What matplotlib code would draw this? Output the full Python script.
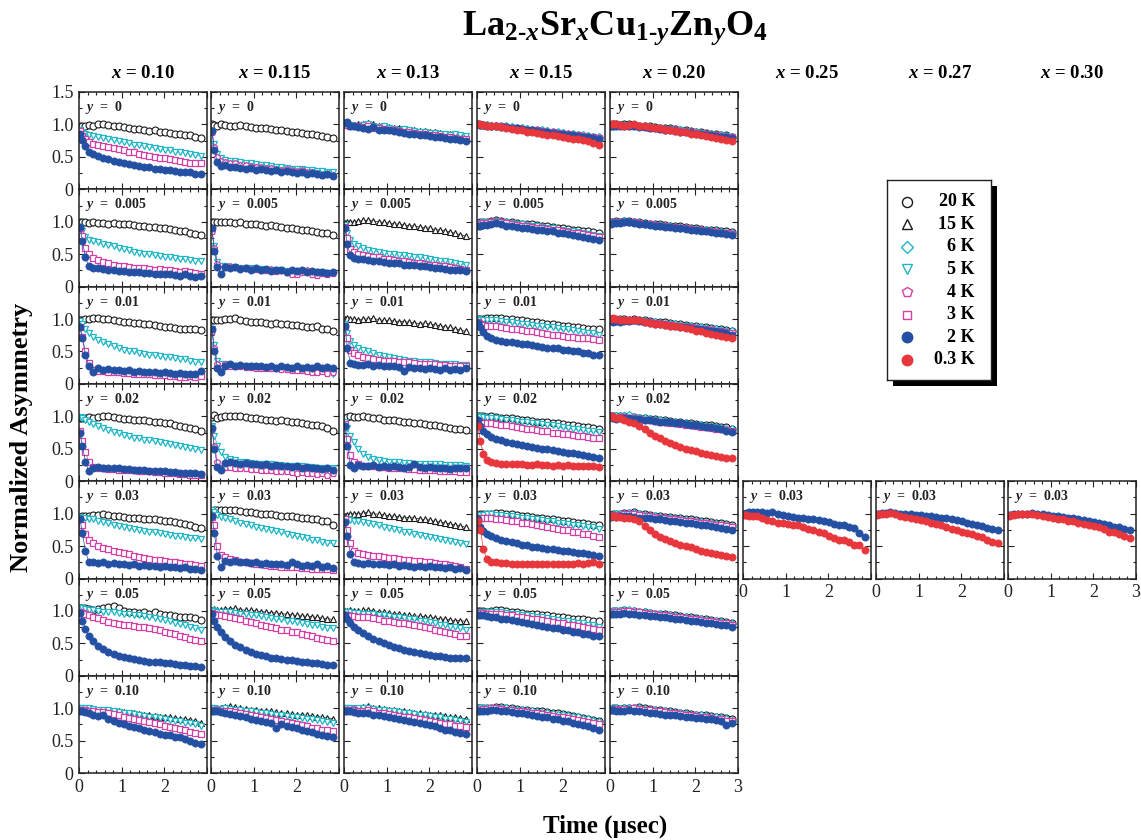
import matplotlib
matplotlib.use('Agg')
import matplotlib.pyplot as plt
from matplotlib.patches import Rectangle
from matplotlib.ticker import MultipleLocator, FixedLocator, FixedFormatter

plt.rcParams['font.family'] = ['Liberation Serif', 'DejaVu Serif']
plt.rcParams['mathtext.fontset'] = 'custom'
plt.rcParams['mathtext.rm'] = 'Liberation Serif:bold'
plt.rcParams['mathtext.it'] = 'Liberation Serif:italic:bold'
plt.rcParams['mathtext.bf'] = 'Liberation Serif:bold'

# ---------------- data ----------------
time_us = [0.02, 0.08, 0.15, 0.23, 0.33, 0.45, 0.57, 0.69, 0.81, 0.93, 1.05, 1.17, 1.29,
           1.41, 1.53, 1.65, 1.77, 1.89, 2.01, 2.13, 2.25, 2.37, 2.49, 2.61, 2.73, 2.85]

x_labels = ['0.10', '0.115', '0.13', '0.15', '0.20', '0.25', '0.27', '0.30']
y_labels = ['0', '0.005', '0.01', '0.02', '0.03', '0.05', '0.10']
legend_keys = ['K20', 'K15', 'K6', 'K5', 'K4', 'K3', 'K2', 'K03']
legend_texts = ['20 K', '15 K', '6 K', '5 K', '4 K', '3 K', '2 K', '0.3 K']

# x = 0.10
x010_y0_K20 = [0.97,0.97,0.98,0.99,0.97, 1.00,1.01,0.99,0.98,0.98, 0.96,0.95,0.93,0.93,0.92, 0.90,0.91,0.88,0.89,0.87, 0.86,0.86,0.84,0.84,0.81, 0.79]
x010_y0_K5 = [0.92,0.88,0.86,0.84,0.82, 0.80,0.79,0.78,0.76,0.74, 0.73,0.71,0.69,0.68,0.67, 0.65,0.64,0.62,0.61,0.60, 0.58,0.57,0.56,0.55,0.53, 0.52]
x010_y0_K3 = [0.90,0.82,0.77,0.73,0.70, 0.68,0.66,0.65,0.63,0.62, 0.60,0.58,0.57,0.55,0.53, 0.51,0.50,0.49,0.48,0.46, 0.45,0.44,0.42,0.41,0.41, 0.40]
x010_y0_K2 = [0.85,0.76,0.66,0.58,0.55, 0.52,0.48,0.46,0.44,0.42, 0.40,0.39,0.37,0.36,0.35, 0.34,0.32,0.31,0.30,0.29, 0.28,0.27,0.26,0.26,0.24, 0.23]

x010_y005_K20 = [0.99,1.00,0.99,0.98,0.99, 0.98,0.98,0.97,0.98,0.97, 0.96,0.96,0.95,0.94,0.93, 0.92,0.92,0.91,0.90,0.89, 0.87,0.86,0.85,0.83,0.81, 0.79]
x010_y005_K5 = [0.92,0.85,0.77,0.72,0.70, 0.68,0.66,0.64,0.62,0.60, 0.58,0.56,0.54,0.52,0.51, 0.50,0.48,0.47,0.46,0.45, 0.44,0.43,0.42,0.41,0.40, 0.39]
x010_y005_K3 = [0.90,0.78,0.60,0.50,0.44, 0.41,0.38,0.36,0.33,0.32, 0.31,0.30,0.29,0.28,0.28, 0.27,0.26,0.27,0.25,0.26, 0.24,0.23,0.24,0.22,0.21, 0.20]
x010_y005_K2 = [0.92,0.70,0.45,0.31,0.29, 0.28,0.27,0.26,0.25,0.24, 0.24,0.23,0.22,0.23,0.21, 0.21,0.20,0.20,0.19,0.20, 0.18,0.17,0.19,0.16,0.15, 0.16]

x010_y01_K20 = [0.98,0.99,1.00,1.00,1.01, 1.01,1.00,1.00,0.98,0.97, 0.95,0.95,0.94,0.94,0.93, 0.92,0.91,0.90,0.88,0.87, 0.86,0.85,0.85,0.84,0.84, 0.83]
x010_y01_K5 = [0.97,0.92,0.85,0.78,0.72, 0.68,0.64,0.61,0.58,0.56, 0.53,0.51,0.50,0.48,0.46, 0.45,0.44,0.43,0.42,0.41, 0.40,0.39,0.38,0.36,0.34, 0.33]
x010_y01_K3 = [0.88,0.72,0.50,0.32,0.22, 0.20,0.20,0.19,0.18,0.18, 0.17,0.17,0.16,0.16,0.15, 0.15,0.14,0.14,0.13,0.12, 0.12,0.11,0.11,0.12,0.10, 0.12]
x010_y01_K2 = [0.88,0.70,0.45,0.28,0.18, 0.24,0.22,0.23,0.21,0.22, 0.20,0.21,0.19,0.20,0.19, 0.18,0.19,0.17,0.18,0.17, 0.16,0.17,0.15,0.16,0.15, 0.20]

x010_y02_K20 = [0.98,0.97,0.98,0.99,0.98, 0.99,1.00,1.00,0.99,0.98, 0.96,0.96,0.95,0.95,0.94, 0.93,0.92,0.91,0.90,0.89, 0.87,0.85,0.84,0.82,0.81, 0.78]
x010_y02_K5 = [0.99,0.97,0.95,0.92,0.88, 0.85,0.82,0.79,0.76,0.74, 0.71,0.69,0.67,0.66,0.64, 0.63,0.62,0.60,0.59,0.57, 0.56,0.54,0.53,0.51,0.49, 0.48]
x010_y02_K3 = [0.78,0.62,0.45,0.30,0.22, 0.20,0.20,0.19,0.19,0.18, 0.18,0.17,0.17,0.16,0.16, 0.15,0.14,0.14,0.13,0.12, 0.12,0.11,0.11,0.10,0.10, 0.10]
x010_y02_K2 = [0.75,0.55,0.30,0.15,0.20, 0.22,0.21,0.21,0.20,0.20, 0.19,0.19,0.18,0.18,0.17, 0.16,0.16,0.15,0.15,0.14, 0.14,0.13,0.13,0.12,0.12, 0.11]

x010_y03_K20 = [0.95,0.96,0.97,0.97,0.98, 0.98,0.99,0.98,0.97,0.96, 0.95,0.94,0.93,0.93,0.92, 0.91,0.91,0.90,0.89,0.88, 0.87,0.86,0.84,0.82,0.80, 0.78]
x010_y03_K5 = [0.95,0.94,0.93,0.92,0.91, 0.89,0.87,0.85,0.83,0.81, 0.79,0.78,0.76,0.75,0.73, 0.72,0.71,0.70,0.69,0.67, 0.66,0.65,0.64,0.63,0.62, 0.61]
x010_y03_K3 = [0.92,0.82,0.68,0.60,0.54, 0.50,0.47,0.45,0.43,0.41, 0.39,0.37,0.35,0.33,0.31, 0.30,0.29,0.28,0.27,0.26, 0.25,0.24,0.23,0.22,0.21, 0.20]
x010_y03_K2 = [0.92,0.70,0.42,0.26,0.25, 0.24,0.25,0.23,0.24,0.22, 0.23,0.21,0.22,0.20,0.21, 0.19,0.20,0.18,0.19,0.17, 0.18,0.16,0.17,0.15,0.14, 0.13]

x010_y05_K20 = [1.04,1.04,1.04,1.03,1.02, 1.03,1.04,1.06,1.07,1.04, 1.00,0.99,0.99,0.97,0.98, 0.96,0.99,0.95,0.94,0.93, 0.92,0.91,0.90,0.90,0.89, 0.86]
x010_y05_K5 = [1.04,1.04,1.03,1.02,1.01, 1.00,0.99,0.99,0.98,0.97, 0.96,0.95,0.94,0.93,0.92, 0.90,0.89,0.87,0.86,0.84, 0.82,0.80,0.78,0.76,0.73, 0.71]
x010_y05_K3 = [0.99,0.97,0.95,0.93,0.91, 0.89,0.86,0.83,0.81,0.80, 0.79,0.78,0.77,0.76,0.75, 0.73,0.72,0.70,0.68,0.66, 0.64,0.62,0.60,0.57,0.55, 0.53]
x010_y05_K2 = [0.97,0.85,0.72,0.62,0.53, 0.46,0.41,0.37,0.34,0.31, 0.29,0.27,0.26,0.24,0.23, 0.22,0.21,0.21,0.20,0.19, 0.18,0.17,0.16,0.15,0.15, 0.14]

x010_y10_K15 = [1.01,1.01,1.00,1.00,0.99, 0.98,0.97,0.97,0.96,0.95, 0.94,0.93,0.92,0.91,0.90, 0.89,0.88,0.87,0.87,0.86, 0.85,0.84,0.83,0.82,0.81, 0.78]
x010_y10_K5 = [1.01,1.01,1.00,1.00,0.99, 0.98,0.98,0.97,0.96,0.94, 0.93,0.92,0.91,0.90,0.88, 0.87,0.86,0.85,0.83,0.82, 0.81,0.80,0.78,0.77,0.75, 0.72]
x010_y10_K3 = [0.98,0.98,0.97,0.96,0.95, 0.94,0.94,0.93,0.91,0.89, 0.87,0.85,0.84,0.82,0.80, 0.79,0.77,0.75,0.73,0.71, 0.70,0.68,0.66,0.64,0.62, 0.61]
x010_y10_K2 = [0.96,0.95,0.94,0.92,0.90, 0.88,0.90,0.84,0.80,0.77, 0.75,0.73,0.71,0.69,0.67, 0.65,0.63,0.61,0.59,0.58, 0.56,0.55,0.52,0.49,0.47, 0.45]

# x = 0.115
x0115_y0_K20 = [1.00,0.99,0.98,1.00,0.99, 0.98,0.97,0.99,0.97,0.96, 0.95,0.95,0.94,0.93,0.92, 0.91,0.90,0.89,0.88,0.87, 0.86,0.85,0.83,0.82,0.81, 0.79]
x0115_y0_K5 = [0.90,0.70,0.55,0.48,0.45, 0.44,0.43,0.42,0.41,0.40, 0.39,0.38,0.37,0.36,0.35, 0.34,0.33,0.32,0.32,0.31, 0.30,0.29,0.28,0.28,0.27, 0.26]
x0115_y0_K4 = [0.88,0.65,0.50,0.43,0.42, 0.40,0.40,0.38,0.37,0.36, 0.35,0.34,0.33,0.33,0.31, 0.30,0.31,0.29,0.28,0.30, 0.27,0.26,0.25,0.22,0.24, 0.22]
x0115_y0_K2 = [0.90,0.60,0.42,0.36,0.38, 0.35,0.34,0.33,0.32,0.33, 0.30,0.31,0.29,0.28,0.30, 0.27,0.28,0.26,0.25,0.27, 0.24,0.25,0.23,0.22,0.23, 0.20]

x0115_y005_K20 = [1.00,0.99,0.99,0.99,1.00, 0.99,0.98,0.99,0.97,0.97, 0.96,0.95,0.94,0.95,0.93, 0.92,0.91,0.90,0.89,0.88, 0.87,0.86,0.84,0.83,0.82, 0.80]
x0115_y005_K5 = [0.88,0.62,0.38,0.32,0.31, 0.30,0.30,0.29,0.28,0.28, 0.27,0.27,0.26,0.26,0.25, 0.25,0.24,0.24,0.24,0.23, 0.23,0.22,0.22,0.22,0.21, 0.21]
x0115_y005_K4 = [0.85,0.60,0.35,0.27,0.30, 0.32,0.30,0.28,0.29,0.27, 0.27,0.26,0.25,0.27,0.24, 0.25,0.22,0.20,0.19,0.22, 0.25,0.20,0.18,0.21,0.19, 0.21]
x0115_y005_K2 = [0.90,0.55,0.30,0.20,0.30, 0.28,0.30,0.27,0.28,0.26, 0.29,0.25,0.27,0.24,0.26, 0.25,0.23,0.26,0.24,0.25, 0.23,0.24,0.22,0.23,0.21, 0.22]

x0115_y01_K20 = [0.98,0.99,0.98,0.99,1.00, 1.00,1.01,0.99,0.97,0.96, 0.95,0.96,0.94,0.93,0.94, 0.93,0.92,0.91,0.91,0.90, 0.88,0.87,0.89,0.85,0.84, 0.82]
x0115_y01_K5 = [0.85,0.60,0.35,0.30,0.30, 0.29,0.28,0.28,0.27,0.27, 0.26,0.26,0.25,0.25,0.24, 0.24,0.23,0.23,0.22,0.22, 0.21,0.21,0.20,0.20,0.18, 0.16]
x0115_y01_K4 = [0.82,0.55,0.30,0.25,0.30, 0.28,0.27,0.27,0.26,0.26, 0.25,0.25,0.25,0.24,0.24, 0.23,0.23,0.22,0.22,0.21, 0.20,0.19,0.18,0.20,0.17, 0.18]
x0115_y01_K2 = [0.85,0.50,0.25,0.18,0.28, 0.30,0.28,0.29,0.27,0.28, 0.27,0.28,0.26,0.27,0.25, 0.28,0.26,0.25,0.27,0.24, 0.26,0.25,0.27,0.24,0.26, 0.25]

x0115_y02_K20 = [0.99,1.02,0.98,0.99,1.00, 1.01,1.01,1.00,0.99,0.98, 0.97,0.96,0.95,0.94,0.93, 0.94,0.93,0.92,0.91,0.90, 0.88,0.87,0.86,0.85,0.82, 0.78]
x0115_y02_K5 = [0.85,0.70,0.55,0.45,0.38, 0.34,0.32,0.30,0.29,0.28, 0.27,0.27,0.26,0.26,0.25, 0.25,0.24,0.24,0.23,0.23, 0.22,0.22,0.21,0.21,0.20, 0.20]
x0115_y02_K4 = [0.80,0.55,0.30,0.20,0.22, 0.22,0.21,0.20,0.20,0.19, 0.19,0.18,0.17,0.17,0.16, 0.16,0.15,0.14,0.13,0.14, 0.12,0.13,0.11,0.12,0.10, 0.12]
x0115_y02_K2 = [0.82,0.50,0.22,0.18,0.28, 0.30,0.28,0.27,0.28,0.26, 0.27,0.25,0.26,0.24,0.25, 0.23,0.24,0.22,0.23,0.21, 0.22,0.20,0.21,0.19,0.20, 0.18]

x0115_y03_K20 = [1.03,1.05,1.05,1.06,1.05, 1.06,1.05,1.04,1.03,1.02, 1.01,1.00,0.99,1.00,0.98, 0.97,0.96,0.97,0.95,0.94, 0.93,0.92,0.91,0.88,0.89, 0.82]
x0115_y03_K5 = [1.06,1.02,0.98,0.95,0.93, 0.91,0.88,0.86,0.84,0.82, 0.80,0.78,0.76,0.75,0.73, 0.71,0.69,0.67,0.66,0.64, 0.62,0.60,0.59,0.57,0.55, 0.54]
x0115_y03_K3 = [0.95,0.82,0.50,0.36,0.33, 0.30,0.28,0.26,0.25,0.24, 0.23,0.22,0.21,0.20,0.19, 0.18,0.18,0.17,0.17,0.16, 0.16,0.15,0.15,0.14,0.14, 0.13]
x0115_y03_K2 = [0.97,0.70,0.35,0.18,0.27, 0.26,0.27,0.25,0.26,0.24, 0.25,0.23,0.24,0.22,0.23, 0.22,0.21,0.25,0.22,0.20, 0.21,0.19,0.22,0.18,0.19, 0.16]

x0115_y05_K15 = [1.02,1.03,1.02,1.02,1.03, 1.03,1.04,1.02,1.01,1.01, 1.00,0.99,0.98,0.97,0.97, 0.96,0.95,0.94,0.93,0.92, 0.92,0.91,0.90,0.89,0.88, 0.87]
x0115_y05_K5 = [1.02,1.00,0.99,0.99,0.98, 0.98,0.97,0.96,0.95,0.94, 0.93,0.92,0.91,0.89,0.88, 0.87,0.85,0.84,0.83,0.81, 0.80,0.79,0.78,0.76,0.74, 0.73]
x0115_y05_K3 = [0.97,0.95,0.94,0.93,0.92, 0.91,0.89,0.87,0.85,0.83, 0.81,0.79,0.77,0.75,0.73, 0.71,0.70,0.68,0.67,0.65, 0.63,0.61,0.59,0.57,0.55, 0.53]
x0115_y05_K2 = [0.95,0.85,0.76,0.67,0.60, 0.54,0.48,0.44,0.40,0.37, 0.34,0.32,0.30,0.28,0.27, 0.26,0.25,0.24,0.23,0.22, 0.21,0.20,0.19,0.18,0.17, 0.17]

x0115_y10_K15 = [1.00,1.00,1.01,1.00,1.02, 1.03,1.02,1.01,0.99,0.98, 0.97,0.96,0.95,0.95,0.94, 0.93,0.92,0.91,0.90,0.90, 0.89,0.88,0.87,0.86,0.85, 0.84]
x0115_y10_K5 = [1.00,1.00,0.99,0.99,1.00, 0.99,0.98,0.97,0.96,0.95, 0.94,0.93,0.92,0.91,0.90, 0.89,0.88,0.87,0.86,0.85, 0.84,0.83,0.82,0.80,0.79, 0.78]
x0115_y10_K3 = [0.98,0.97,0.97,0.96,0.95, 0.95,0.94,0.93,0.91,0.90, 0.88,0.86,0.85,0.84,0.82, 0.81,0.79,0.78,0.76,0.74, 0.72,0.70,0.69,0.67,0.66, 0.65]
x0115_y10_K2 = [0.96,0.96,0.95,0.94,0.93, 0.91,0.90,0.88,0.86,0.84, 0.82,0.81,0.79,0.78,0.70, 0.75,0.72,0.71,0.69,0.67, 0.65,0.63,0.61,0.59,0.57, 0.55]

# x = 0.13
x013_y0_K15 = [1.01,1.00,0.99,0.99,1.00, 1.01,1.02,1.00,0.98,0.97, 0.96,0.95,0.94,0.93,0.92, 0.92,0.90,0.90,0.89,0.88, 0.87,0.86,0.85,0.84,0.83, 0.81]
x013_y0_K5 = [1.02,1.00,0.99,0.98,0.97, 0.99,1.01,0.97,0.96,0.97, 0.95,0.93,0.92,0.93,0.91, 0.90,0.89,0.88,0.87,0.87, 0.86,0.85,0.84,0.85,0.83, 0.82]
x013_y0_K3 = [1.00,0.99,0.98,0.97,0.97, 0.96,0.97,0.95,0.94,0.93, 0.92,0.91,0.90,0.89,0.88, 0.87,0.86,0.85,0.84,0.83, 0.82,0.81,0.80,0.79,0.78, 0.77]
x013_y0_K2 = [1.02,1.03,0.98,0.97,0.96, 0.95,0.93,0.96,0.92,0.92, 0.91,0.90,0.89,0.87,0.86, 0.85,0.84,0.83,0.82,0.81, 0.80,0.79,0.78,0.77,0.76, 0.74]

x013_y005_K15 = [0.98,0.99,0.99,1.00,1.01, 1.02,1.02,1.01,1.00,0.99, 0.98,0.97,0.96,0.95,0.94, 0.93,0.92,0.91,0.90,0.88, 0.87,0.86,0.84,0.82,0.80, 0.78]
x013_y005_K5 = [0.95,0.82,0.72,0.66,0.62, 0.59,0.57,0.55,0.54,0.52, 0.51,0.50,0.49,0.48,0.47, 0.46,0.45,0.44,0.43,0.41, 0.40,0.39,0.38,0.37,0.35, 0.34]
x013_y005_K3 = [0.92,0.75,0.58,0.53,0.51, 0.49,0.47,0.46,0.45,0.43, 0.42,0.41,0.40,0.39,0.38, 0.37,0.36,0.35,0.34,0.33, 0.32,0.31,0.30,0.29,0.27, 0.26]
x013_y005_K2 = [0.90,0.65,0.48,0.44,0.43, 0.42,0.41,0.40,0.39,0.38, 0.37,0.37,0.36,0.34,0.34, 0.33,0.32,0.31,0.30,0.29, 0.28,0.27,0.26,0.25,0.25, 0.24]

x013_y01_K15 = [1.00,1.01,1.00,1.00,0.99, 1.00,1.00,1.01,0.99,0.98, 0.98,0.97,0.96,0.96,0.95, 0.94,0.93,0.94,0.92,0.91, 0.90,0.88,0.87,0.85,0.83, 0.81]
x013_y01_K5 = [0.92,0.78,0.66,0.60,0.56, 0.53,0.50,0.47,0.45,0.43, 0.41,0.40,0.38,0.37,0.36, 0.35,0.34,0.34,0.33,0.32, 0.31,0.31,0.30,0.30,0.29, 0.29]
x013_y01_K3 = [0.90,0.70,0.52,0.47,0.44, 0.42,0.40,0.39,0.37,0.36, 0.35,0.35,0.34,0.33,0.33, 0.32,0.31,0.31,0.30,0.30, 0.29,0.29,0.28,0.28,0.27, 0.27]
x013_y01_K2 = [0.90,0.55,0.32,0.30,0.29, 0.29,0.30,0.28,0.29,0.27, 0.28,0.27,0.26,0.20,0.26, 0.25,0.24,0.23,0.25,0.23, 0.22,0.24,0.21,0.23,0.22, 0.24]

x013_y02_K20 = [0.98,0.99,1.00,0.99,0.99, 1.00,0.99,0.98,0.97,0.95, 0.94,0.94,0.93,0.92,0.91, 0.90,0.89,0.88,0.87,0.86, 0.85,0.83,0.82,0.81,0.80, 0.79]
x013_y02_K5 = [0.92,0.82,0.70,0.60,0.50, 0.42,0.37,0.34,0.32,0.31, 0.30,0.29,0.29,0.28,0.28, 0.27,0.27,0.27,0.26,0.26, 0.26,0.25,0.25,0.25,0.25, 0.24]
x013_y02_K3 = [0.88,0.65,0.40,0.30,0.26, 0.24,0.23,0.23,0.22,0.22, 0.21,0.21,0.20,0.20,0.19, 0.19,0.18,0.18,0.17,0.17, 0.16,0.16,0.15,0.15,0.14, 0.14]
x013_y02_K2 = [0.85,0.55,0.25,0.20,0.25, 0.24,0.23,0.25,0.22,0.24, 0.22,0.23,0.22,0.21,0.22, 0.26,0.22,0.21,0.22,0.20, 0.21,0.20,0.19,0.21,0.20, 0.21]

x013_y03_K15 = [0.97,0.98,0.99,1.00,1.00, 1.01,1.02,1.00,0.99,0.98, 0.97,0.96,0.95,0.94,0.94, 0.93,0.92,0.91,0.90,0.88, 0.87,0.86,0.84,0.83,0.81, 0.79]
x013_y03_K5 = [0.92,0.91,0.90,0.89,0.88, 0.87,0.85,0.84,0.82,0.80, 0.78,0.76,0.74,0.72,0.71, 0.69,0.67,0.66,0.64,0.62, 0.61,0.59,0.58,0.56,0.54, 0.53]
x013_y03_K3 = [0.92,0.75,0.55,0.43,0.40, 0.38,0.36,0.35,0.34,0.33, 0.32,0.31,0.30,0.29,0.28, 0.27,0.27,0.26,0.25,0.24, 0.23,0.22,0.21,0.19,0.17, 0.15]
x013_y03_K2 = [0.87,0.65,0.38,0.25,0.24, 0.23,0.24,0.23,0.23,0.22, 0.21,0.22,0.20,0.21,0.19, 0.17,0.20,0.18,0.19,0.17, 0.18,0.16,0.17,0.15,0.16, 0.13]

x013_y05_K15 = [1.00,1.00,1.01,1.00,1.00, 1.01,1.02,1.00,0.99,0.98, 0.97,0.96,0.95,0.94,0.93, 0.92,0.92,0.91,0.90,0.89, 0.88,0.87,0.86,0.85,0.85, 0.84]
x013_y05_K5 = [0.99,0.98,0.98,0.97,0.97, 0.96,0.96,0.95,0.94,0.93, 0.92,0.91,0.90,0.89,0.88, 0.87,0.85,0.84,0.83,0.81, 0.79,0.78,0.76,0.75,0.73, 0.71]
x013_y05_K3 = [0.94,0.93,0.92,0.92,0.91, 0.91,0.90,0.89,0.87,0.85, 0.84,0.83,0.82,0.81,0.80, 0.79,0.77,0.75,0.73,0.71, 0.69,0.67,0.66,0.64,0.62, 0.61]
x013_y05_K2 = [0.94,0.88,0.82,0.76,0.70, 0.66,0.61,0.57,0.54,0.51, 0.48,0.45,0.43,0.40,0.38, 0.36,0.35,0.34,0.32,0.30, 0.30,0.29,0.28,0.27,0.27, 0.27]

x013_y10_K15 = [1.00,1.00,1.01,1.00,1.01, 1.02,1.03,1.01,1.00,0.99, 0.98,0.97,0.96,0.95,0.94, 0.93,0.92,0.91,0.90,0.90, 0.89,0.88,0.87,0.86,0.85, 0.84]
x013_y10_K5 = [1.00,1.00,1.00,0.99,1.00, 1.00,1.01,0.99,0.98,0.97, 0.96,0.95,0.94,0.93,0.92, 0.91,0.90,0.89,0.88,0.87, 0.86,0.84,0.83,0.82,0.80, 0.79]
x013_y10_K3 = [0.98,0.98,0.97,0.97,0.96, 0.96,0.97,0.95,0.93,0.92, 0.91,0.90,0.88,0.87,0.86, 0.85,0.83,0.82,0.80,0.79, 0.77,0.76,0.75,0.73,0.72, 0.71]
x013_y10_K2 = [0.96,0.96,0.95,0.94,0.93, 0.93,0.92,0.90,0.89,0.88, 0.86,0.85,0.83,0.82,0.80, 0.79,0.77,0.76,0.74,0.72, 0.69,0.67,0.66,0.64,0.62, 0.60]

# x = 0.15
x015_y0_K15 = [1.01,1.00,1.00,1.00,0.99, 0.99,0.98,0.98,0.97,0.96, 0.95,0.94,0.93,0.93,0.92, 0.91,0.90,0.89,0.88,0.87, 0.86,0.85,0.84,0.83,0.82, 0.81]
x015_y0_K6 = [1.00,0.99,0.99,0.99,0.98, 0.98,0.97,0.97,0.96,0.95, 0.94,0.93,0.92,0.92,0.91, 0.90,0.89,0.88,0.87,0.86, 0.85,0.84,0.83,0.82,0.81, 0.80]
x015_y0_K3 = [1.00,0.99,0.99,0.98,0.98, 0.97,0.97,0.96,0.95,0.94, 0.93,0.92,0.91,0.91,0.90, 0.89,0.88,0.87,0.86,0.85, 0.84,0.83,0.82,0.81,0.80, 0.79]
x015_y0_K2 = [1.00,0.99,0.99,0.98,0.98, 0.97,0.96,0.96,0.95,0.94, 0.93,0.92,0.91,0.90,0.89, 0.88,0.87,0.86,0.85,0.84, 0.83,0.82,0.81,0.80,0.79, 0.78]
x015_y0_K03 = [1.01,1.00,0.99,0.98,0.97, 0.97,0.96,0.95,0.93,0.92, 0.91,0.89,0.88,0.87,0.86, 0.84,0.83,0.82,0.81,0.79, 0.78,0.77,0.76,0.74,0.71, 0.68]

x015_y005_K20 = [0.98,0.99,1.00,1.00,1.01, 1.02,1.01,1.00,0.99,0.98, 0.97,0.96,0.96,0.95,0.94, 0.93,0.92,0.91,0.90,0.89, 0.88,0.87,0.86,0.85,0.84, 0.83]
x015_y005_K5 = [0.97,0.98,0.99,0.99,1.00, 1.01,1.00,0.99,0.98,0.97, 0.96,0.95,0.94,0.93,0.92, 0.91,0.90,0.88,0.87,0.86, 0.85,0.84,0.83,0.81,0.80, 0.78]
x015_y005_K3 = [0.96,0.97,0.98,0.98,0.99, 1.00,0.99,0.98,0.96,0.95, 0.94,0.93,0.92,0.91,0.90, 0.89,0.88,0.87,0.85,0.84, 0.83,0.82,0.81,0.79,0.78, 0.77]
x015_y005_K2 = [0.93,0.94,0.95,0.95,0.96, 0.98,0.96,0.94,0.93,0.92, 0.91,0.90,0.89,0.88,0.87, 0.86,0.85,0.83,0.82,0.81, 0.79,0.78,0.77,0.75,0.74, 0.72]

x015_y01_K20 = [1.00,1.00,1.00,1.01,1.01, 1.02,1.01,1.00,1.00,0.99, 0.98,0.97,0.96,0.95,0.94, 0.93,0.92,0.91,0.90,0.89, 0.88,0.87,0.86,0.85,0.84, 0.84]
x015_y01_K5 = [1.00,0.99,0.98,0.98,0.99, 0.98,0.97,0.96,0.95,0.94, 0.93,0.92,0.91,0.90,0.89, 0.88,0.87,0.86,0.85,0.84, 0.83,0.82,0.80,0.79,0.78, 0.76]
x015_y01_K3 = [0.95,0.93,0.91,0.90,0.90, 0.89,0.88,0.86,0.85,0.84, 0.83,0.82,0.81,0.80,0.79, 0.77,0.76,0.75,0.74,0.73, 0.72,0.71,0.70,0.70,0.69, 0.68]
x015_y01_K2 = [0.94,0.88,0.80,0.74,0.70, 0.68,0.66,0.65,0.64,0.63, 0.62,0.61,0.60,0.58,0.57, 0.56,0.55,0.56,0.53,0.52, 0.51,0.50,0.48,0.47,0.45, 0.44]

x015_y02_K20 = [1.00,1.01,1.00,0.99,1.00, 0.99,0.98,0.98,0.97,0.96, 0.95,0.94,0.93,0.92,0.92, 0.91,0.90,0.89,0.88,0.87, 0.86,0.85,0.84,0.83,0.82, 0.81]
x015_y02_K5 = [1.00,0.99,0.99,0.98,0.97, 0.97,0.96,0.95,0.94,0.93, 0.92,0.91,0.90,0.89,0.88, 0.87,0.86,0.85,0.84,0.82, 0.81,0.80,0.79,0.78,0.77, 0.76]
x015_y02_K3 = [0.92,0.91,0.90,0.90,0.89, 0.88,0.87,0.86,0.85,0.84, 0.82,0.81,0.80,0.79,0.78, 0.77,0.75,0.74,0.73,0.72, 0.71,0.70,0.69,0.68,0.67, 0.66]
x015_y02_K2 = [0.95,0.85,0.77,0.72,0.68, 0.65,0.63,0.61,0.59,0.57, 0.56,0.54,0.53,0.51,0.50, 0.49,0.48,0.47,0.45,0.44, 0.43,0.42,0.40,0.39,0.37, 0.35]
x015_y02_K03 = [0.85,0.62,0.42,0.33,0.30, 0.28,0.27,0.27,0.26,0.26, 0.26,0.25,0.25,0.26,0.25, 0.25,0.24,0.25,0.24,0.25, 0.24,0.24,0.23,0.24,0.24, 0.22]

x015_y03_K20 = [0.98,0.99,1.00,1.00,1.00, 1.01,1.01,1.00,0.99,0.98, 0.97,0.96,0.95,0.94,0.93, 0.92,0.91,0.90,0.89,0.88, 0.87,0.86,0.85,0.84,0.83, 0.82]
x015_y03_K5 = [0.97,0.98,0.98,0.99,0.99, 0.98,0.98,0.97,0.96,0.95, 0.94,0.93,0.92,0.91,0.90, 0.89,0.88,0.86,0.85,0.84, 0.83,0.82,0.81,0.80,0.79, 0.77]
x015_y03_K3 = [0.93,0.94,0.94,0.94,0.93, 0.92,0.91,0.90,0.89,0.88, 0.86,0.85,0.84,0.83,0.81, 0.80,0.78,0.77,0.75,0.74, 0.72,0.71,0.69,0.68,0.66, 0.64]
x015_y03_K2 = [0.92,0.80,0.73,0.69,0.66, 0.63,0.60,0.58,0.56,0.54, 0.52,0.51,0.49,0.48,0.47, 0.46,0.45,0.44,0.43,0.42, 0.41,0.40,0.39,0.37,0.36, 0.35]
x015_y03_K03 = [0.89,0.75,0.45,0.30,0.26, 0.25,0.24,0.24,0.23,0.23, 0.22,0.23,0.22,0.23,0.22, 0.22,0.23,0.22,0.23,0.22, 0.23,0.24,0.23,0.24,0.25, 0.23]

x015_y05_K20 = [1.00,1.00,1.00,0.99,1.00, 1.01,1.02,1.00,0.99,0.98, 0.97,0.96,0.96,0.95,0.94, 0.93,0.92,0.91,0.90,0.89, 0.88,0.88,0.87,0.86,0.85, 0.84]
x015_y05_K5 = [0.99,0.99,0.99,0.98,0.98, 0.99,0.98,0.97,0.96,0.95, 0.94,0.93,0.92,0.91,0.90, 0.89,0.88,0.86,0.85,0.84, 0.83,0.82,0.81,0.79,0.78, 0.76]
x015_y05_K3 = [0.97,0.97,0.97,0.96,0.96, 0.96,0.95,0.94,0.93,0.91, 0.90,0.89,0.88,0.87,0.86, 0.84,0.83,0.82,0.81,0.79, 0.78,0.77,0.75,0.74,0.72, 0.71]
x015_y05_K2 = [0.94,0.93,0.93,0.92,0.91, 0.90,0.88,0.87,0.86,0.84, 0.83,0.81,0.80,0.78,0.77, 0.75,0.74,0.73,0.71,0.70, 0.68,0.67,0.65,0.64,0.62, 0.61]

x015_y10_K20 = [1.00,1.00,1.01,1.00,1.01, 1.02,1.02,1.01,1.00,0.99, 0.98,0.97,0.96,0.95,0.95, 0.94,0.93,0.92,0.91,0.90, 0.88,0.87,0.85,0.84,0.82, 0.80]
x015_y10_K6 = [0.99,1.00,1.00,1.00,1.01, 1.01,1.01,1.00,0.99,0.98, 0.97,0.96,0.95,0.94,0.93, 0.92,0.91,0.90,0.89,0.88, 0.87,0.86,0.84,0.83,0.81, 0.79]
x015_y10_K3 = [0.98,0.98,0.99,0.99,1.00, 1.00,0.99,0.98,0.97,0.96, 0.95,0.94,0.93,0.92,0.91, 0.90,0.88,0.87,0.86,0.85, 0.83,0.82,0.80,0.79,0.77, 0.75]
x015_y10_K2 = [0.96,0.96,0.96,0.96,0.97, 0.97,0.96,0.95,0.94,0.93, 0.92,0.91,0.89,0.88,0.87, 0.86,0.84,0.83,0.81,0.80, 0.78,0.76,0.74,0.72,0.69, 0.66]

# x = 0.20
x020_y0_K20 = [0.99,1.00,1.00,0.99,1.00, 1.00,0.99,0.98,0.98,0.97, 0.96,0.95,0.94,0.94,0.93, 0.92,0.91,0.90,0.89,0.88, 0.87,0.86,0.85,0.84,0.83, 0.81]
x020_y0_K5 = [0.98,0.99,0.99,0.98,0.99, 0.99,0.98,0.97,0.97,0.96, 0.95,0.94,0.93,0.93,0.92, 0.91,0.90,0.89,0.88,0.87, 0.86,0.85,0.84,0.83,0.82, 0.81]
x020_y0_K3 = [0.98,0.98,0.99,0.98,0.98, 0.98,0.97,0.97,0.96,0.95, 0.94,0.93,0.93,0.92,0.91, 0.90,0.89,0.88,0.87,0.86, 0.85,0.84,0.83,0.82,0.81, 0.80]
x020_y0_K2 = [0.98,0.97,0.98,0.97,0.98, 0.98,0.97,0.96,0.96,0.95, 0.94,0.93,0.92,0.91,0.90, 0.89,0.88,0.87,0.86,0.85, 0.84,0.83,0.82,0.81,0.80, 0.79]
x020_y0_K03 = [1.00,1.01,1.00,0.99,0.98, 0.99,1.00,0.98,0.97,0.96, 0.95,0.94,0.92,0.91,0.90, 0.89,0.88,0.86,0.85,0.84, 0.82,0.81,0.79,0.78,0.76, 0.74]

x020_y005_K20 = [1.00,1.00,1.01,1.00,1.01, 1.01,1.00,0.99,0.98,0.97, 0.96,0.96,0.95,0.94,0.93, 0.93,0.92,0.91,0.90,0.89, 0.88,0.87,0.87,0.86,0.85, 0.84]
x020_y005_K6 = [0.99,1.00,1.00,1.00,1.01, 1.00,0.99,0.98,0.97,0.96, 0.95,0.95,0.94,0.93,0.92, 0.91,0.90,0.89,0.88,0.88, 0.87,0.86,0.85,0.84,0.83, 0.82]
x020_y005_K3 = [0.98,0.99,0.99,0.99,1.00, 1.00,0.99,0.98,0.97,0.96, 0.95,0.94,0.93,0.92,0.92, 0.91,0.90,0.89,0.88,0.87, 0.86,0.85,0.84,0.83,0.82, 0.81]
x020_y005_K2 = [0.97,0.98,0.98,0.98,0.99, 0.99,0.98,0.97,0.96,0.95, 0.94,0.93,0.92,0.92,0.91, 0.90,0.89,0.88,0.87,0.86, 0.85,0.84,0.83,0.82,0.81, 0.80]

x020_y01_K20 = [0.99,1.00,0.99,1.00,1.00, 0.99,1.00,0.99,0.98,0.97, 0.96,0.95,0.95,0.94,0.93, 0.92,0.91,0.90,0.89,0.88, 0.87,0.86,0.85,0.84,0.83, 0.82]
x020_y01_K6 = [0.98,0.99,0.98,0.99,0.99, 0.98,0.99,0.98,0.97,0.96, 0.95,0.94,0.93,0.93,0.92, 0.91,0.90,0.89,0.88,0.87, 0.86,0.85,0.84,0.83,0.82, 0.81]
x020_y01_K3 = [0.97,0.97,0.97,0.98,0.98, 0.97,0.98,0.97,0.96,0.95, 0.94,0.93,0.92,0.91,0.90, 0.89,0.88,0.87,0.86,0.85, 0.84,0.83,0.82,0.81,0.80, 0.79]
x020_y01_K2 = [0.97,0.96,0.97,0.96,0.97, 0.97,0.98,0.97,0.95,0.94, 0.93,0.92,0.91,0.90,0.89, 0.88,0.87,0.86,0.85,0.84, 0.83,0.82,0.81,0.80,0.78, 0.76]
x020_y01_K03 = [1.00,1.01,1.00,0.99,0.99, 0.98,0.99,0.98,0.96,0.94, 0.93,0.92,0.91,0.90,0.89, 0.87,0.86,0.84,0.82,0.81, 0.79,0.77,0.76,0.74,0.72, 0.70]

x020_y02_K20 = [1.00,1.00,1.00,1.00,1.01, 1.00,0.99,0.98,0.97,0.96, 0.96,0.95,0.94,0.93,0.92, 0.91,0.90,0.89,0.88,0.87, 0.86,0.86,0.85,0.84,0.83, 0.81]
x020_y02_K6 = [1.00,0.99,1.00,1.00,1.01, 1.02,0.99,0.98,0.97,0.96, 0.95,0.94,0.93,0.92,0.91, 0.90,0.89,0.88,0.87,0.86, 0.85,0.84,0.83,0.82,0.81, 0.80]
x020_y02_K3 = [0.99,0.98,0.98,0.99,0.99, 0.98,0.97,0.96,0.95,0.94, 0.93,0.92,0.91,0.90,0.89, 0.88,0.87,0.86,0.85,0.84, 0.83,0.82,0.81,0.80,0.79, 0.78]
x020_y02_K2 = [1.00,0.97,0.96,0.97,0.98, 0.97,0.96,0.96,0.95,0.94, 0.93,0.92,0.92,0.91,0.90, 0.89,0.88,0.87,0.86,0.85, 0.84,0.83,0.82,0.80,0.78, 0.76]
x020_y02_K03 = [1.00,0.99,0.98,0.97,0.95, 0.92,0.89,0.85,0.80,0.75, 0.70,0.66,0.62,0.59,0.56, 0.53,0.50,0.48,0.46,0.44, 0.42,0.40,0.39,0.38,0.36, 0.35]

x020_y03_K20 = [0.98,0.99,1.00,1.00,1.01, 1.01,1.02,1.00,0.99,0.98, 0.97,0.96,0.95,0.95,0.94, 0.93,0.92,0.91,0.90,0.89, 0.88,0.87,0.86,0.85,0.84, 0.82]
x020_y03_K6 = [0.97,0.98,0.99,0.99,1.00, 1.01,1.01,0.99,0.98,0.97, 0.96,0.95,0.94,0.93,0.92, 0.91,0.90,0.89,0.88,0.87, 0.86,0.85,0.84,0.83,0.82, 0.80]
x020_y03_K3 = [0.96,0.97,0.98,0.98,0.99, 1.00,0.99,0.98,0.97,0.96, 0.95,0.94,0.93,0.92,0.91, 0.90,0.89,0.88,0.87,0.86, 0.85,0.84,0.83,0.82,0.81, 0.79]
x020_y03_K2 = [0.95,0.96,0.95,0.96,0.97, 0.96,0.95,0.94,0.93,0.93, 0.92,0.91,0.90,0.89,0.88, 0.87,0.86,0.85,0.84,0.83, 0.82,0.81,0.79,0.78,0.76, 0.74]
x020_y03_K03 = [0.97,0.96,0.95,0.95,0.94, 0.93,0.92,0.88,0.81,0.75, 0.69,0.64,0.61,0.58,0.55, 0.52,0.50,0.48,0.46,0.43, 0.41,0.39,0.38,0.36,0.34, 0.33]

x020_y05_K20 = [0.99,1.00,1.00,1.00,1.01, 1.00,1.00,0.99,0.98,0.97, 0.96,0.96,0.95,0.94,0.93, 0.92,0.91,0.90,0.89,0.88, 0.87,0.86,0.85,0.84,0.83, 0.81]
x020_y05_K6 = [0.99,1.00,1.00,1.00,1.01, 1.02,1.00,0.99,0.98,0.97, 0.96,0.95,0.94,0.93,0.92, 0.91,0.90,0.89,0.88,0.87, 0.86,0.85,0.84,0.83,0.82, 0.80]
x020_y05_K3 = [0.98,0.99,0.99,0.99,1.00, 1.00,0.99,0.98,0.97,0.96, 0.95,0.94,0.93,0.92,0.91, 0.90,0.89,0.88,0.87,0.86, 0.85,0.84,0.83,0.82,0.81, 0.79]
x020_y05_K2 = [0.96,0.96,0.96,0.96,0.97, 0.96,0.95,0.94,0.93,0.92, 0.92,0.91,0.90,0.89,0.88, 0.87,0.86,0.85,0.84,0.83, 0.82,0.81,0.80,0.79,0.78, 0.76]

x020_y10_K20 = [0.99,1.00,1.00,0.99,1.00, 1.00,1.01,1.02,1.00,0.99, 0.98,0.97,0.96,0.95,0.94, 0.93,0.92,0.91,0.90,0.90, 0.89,0.88,0.87,0.86,0.85, 0.83]
x020_y10_K6 = [0.99,0.99,1.00,0.99,1.00, 1.00,1.01,1.00,0.99,0.98, 0.97,0.96,0.95,0.94,0.93, 0.92,0.91,0.90,0.90,0.89, 0.88,0.87,0.86,0.85,0.84, 0.81]
x020_y10_K3 = [0.98,0.98,0.99,0.98,0.99, 0.99,1.00,0.99,0.98,0.97, 0.96,0.95,0.94,0.93,0.92, 0.91,0.90,0.89,0.88,0.87, 0.86,0.85,0.84,0.83,0.80, 0.80]
x020_y10_K2 = [0.97,0.97,0.96,0.96,0.96, 0.97,0.96,0.95,0.94,0.93, 0.92,0.91,0.90,0.90,0.89, 0.88,0.87,0.86,0.85,0.85, 0.84,0.83,0.82,0.81,0.74, 0.77]

# x = 0.25, 0.27, 0.30 (y = 0.03 only)
x025_y03_K2 = [1.00,1.01,1.02,1.02,1.03, 1.02,1.01,1.02,1.00,0.98, 0.96,0.95,0.94,0.93,0.92, 0.91,0.90,0.89,0.87,0.84, 0.83,0.82,0.79,0.78,0.70, 0.64]
x025_y03_K03 = [0.98,0.98,0.97,0.97,0.96, 0.93,0.90,0.88,0.86,0.85, 0.84,0.83,0.82,0.79,0.76, 0.74,0.72,0.70,0.66,0.62, 0.60,0.59,0.56,0.52,0.51, 0.44]
x027_y03_K2 = [0.99,1.00,1.01,1.01,1.02, 1.01,1.00,0.99,0.99,0.98, 0.98,0.97,0.96,0.95,0.94, 0.93,0.92,0.90,0.88,0.86, 0.84,0.82,0.81,0.78,0.76, 0.75]
x027_y03_K03 = [0.98,0.99,1.00,0.99,1.01, 1.00,0.97,0.95,0.93,0.92, 0.90,0.88,0.86,0.84,0.82, 0.79,0.76,0.75,0.72,0.70, 0.68,0.66,0.64,0.60,0.57, 0.54]
x030_y03_K2 = [0.98,0.98,0.99,0.99,1.00, 1.00,1.01,1.00,0.99,0.98, 0.97,0.96,0.95,0.94,0.93, 0.91,0.90,0.89,0.87,0.86, 0.84,0.82,0.80,0.79,0.77, 0.75]
x030_y03_K03 = [0.97,0.98,0.98,0.99,0.99, 1.00,0.99,0.98,0.96,0.95, 0.94,0.92,0.91,0.89,0.88, 0.86,0.84,0.83,0.81,0.80, 0.77,0.72,0.71,0.69,0.66, 0.62]

# (column, row, series)
panels = [
    (0, 0, [('K20', x010_y0_K20), ('K5', x010_y0_K5), ('K3', x010_y0_K3), ('K2', x010_y0_K2)]),
    (0, 1, [('K20', x010_y005_K20), ('K5', x010_y005_K5), ('K3', x010_y005_K3), ('K2', x010_y005_K2)]),
    (0, 2, [('K20', x010_y01_K20), ('K5', x010_y01_K5), ('K3', x010_y01_K3), ('K2', x010_y01_K2)]),
    (0, 3, [('K20', x010_y02_K20), ('K5', x010_y02_K5), ('K3', x010_y02_K3), ('K2', x010_y02_K2)]),
    (0, 4, [('K20', x010_y03_K20), ('K5', x010_y03_K5), ('K3', x010_y03_K3), ('K2', x010_y03_K2)]),
    (0, 5, [('K20', x010_y05_K20), ('K5', x010_y05_K5), ('K3', x010_y05_K3), ('K2', x010_y05_K2)]),
    (0, 6, [('K15', x010_y10_K15), ('K5', x010_y10_K5), ('K3', x010_y10_K3), ('K2', x010_y10_K2)]),
    (1, 0, [('K20', x0115_y0_K20), ('K5', x0115_y0_K5), ('K4', x0115_y0_K4), ('K2', x0115_y0_K2)]),
    (1, 1, [('K20', x0115_y005_K20), ('K5', x0115_y005_K5), ('K4', x0115_y005_K4), ('K2', x0115_y005_K2)]),
    (1, 2, [('K20', x0115_y01_K20), ('K5', x0115_y01_K5), ('K4', x0115_y01_K4), ('K2', x0115_y01_K2)]),
    (1, 3, [('K20', x0115_y02_K20), ('K5', x0115_y02_K5), ('K4', x0115_y02_K4), ('K2', x0115_y02_K2)]),
    (1, 4, [('K20', x0115_y03_K20), ('K5', x0115_y03_K5), ('K3', x0115_y03_K3), ('K2', x0115_y03_K2)]),
    (1, 5, [('K15', x0115_y05_K15), ('K5', x0115_y05_K5), ('K3', x0115_y05_K3), ('K2', x0115_y05_K2)]),
    (1, 6, [('K15', x0115_y10_K15), ('K5', x0115_y10_K5), ('K3', x0115_y10_K3), ('K2', x0115_y10_K2)]),
    (2, 0, [('K15', x013_y0_K15), ('K5', x013_y0_K5), ('K3', x013_y0_K3), ('K2', x013_y0_K2)]),
    (2, 1, [('K15', x013_y005_K15), ('K5', x013_y005_K5), ('K3', x013_y005_K3), ('K2', x013_y005_K2)]),
    (2, 2, [('K15', x013_y01_K15), ('K5', x013_y01_K5), ('K3', x013_y01_K3), ('K2', x013_y01_K2)]),
    (2, 3, [('K20', x013_y02_K20), ('K5', x013_y02_K5), ('K3', x013_y02_K3), ('K2', x013_y02_K2)]),
    (2, 4, [('K15', x013_y03_K15), ('K5', x013_y03_K5), ('K3', x013_y03_K3), ('K2', x013_y03_K2)]),
    (2, 5, [('K15', x013_y05_K15), ('K5', x013_y05_K5), ('K3', x013_y05_K3), ('K2', x013_y05_K2)]),
    (2, 6, [('K15', x013_y10_K15), ('K5', x013_y10_K5), ('K3', x013_y10_K3), ('K2', x013_y10_K2)]),
    (3, 0, [('K15', x015_y0_K15), ('K6', x015_y0_K6), ('K3', x015_y0_K3), ('K2', x015_y0_K2), ('K03', x015_y0_K03)]),
    (3, 1, [('K20', x015_y005_K20), ('K5', x015_y005_K5), ('K3', x015_y005_K3), ('K2', x015_y005_K2)]),
    (3, 2, [('K20', x015_y01_K20), ('K5', x015_y01_K5), ('K3', x015_y01_K3), ('K2', x015_y01_K2)]),
    (3, 3, [('K20', x015_y02_K20), ('K5', x015_y02_K5), ('K3', x015_y02_K3), ('K2', x015_y02_K2), ('K03', x015_y02_K03)]),
    (3, 4, [('K20', x015_y03_K20), ('K5', x015_y03_K5), ('K3', x015_y03_K3), ('K2', x015_y03_K2), ('K03', x015_y03_K03)]),
    (3, 5, [('K20', x015_y05_K20), ('K5', x015_y05_K5), ('K3', x015_y05_K3), ('K2', x015_y05_K2)]),
    (3, 6, [('K20', x015_y10_K20), ('K6', x015_y10_K6), ('K3', x015_y10_K3), ('K2', x015_y10_K2)]),
    (4, 0, [('K20', x020_y0_K20), ('K5', x020_y0_K5), ('K3', x020_y0_K3), ('K2', x020_y0_K2), ('K03', x020_y0_K03)]),
    (4, 1, [('K20', x020_y005_K20), ('K6', x020_y005_K6), ('K3', x020_y005_K3), ('K2', x020_y005_K2)]),
    (4, 2, [('K20', x020_y01_K20), ('K6', x020_y01_K6), ('K3', x020_y01_K3), ('K2', x020_y01_K2), ('K03', x020_y01_K03)]),
    (4, 3, [('K20', x020_y02_K20), ('K6', x020_y02_K6), ('K3', x020_y02_K3), ('K2', x020_y02_K2), ('K03', x020_y02_K03)]),
    (4, 4, [('K20', x020_y03_K20), ('K6', x020_y03_K6), ('K3', x020_y03_K3), ('K2', x020_y03_K2), ('K03', x020_y03_K03)]),
    (4, 5, [('K20', x020_y05_K20), ('K6', x020_y05_K6), ('K3', x020_y05_K3), ('K2', x020_y05_K2)]),
    (4, 6, [('K20', x020_y10_K20), ('K6', x020_y10_K6), ('K3', x020_y10_K3), ('K2', x020_y10_K2)]),
    (5, 4, [('K2', x025_y03_K2), ('K03', x025_y03_K03)]),
    (6, 4, [('K2', x027_y03_K2), ('K03', x027_y03_K03)]),
    (7, 4, [('K2', x030_y03_K2), ('K03', x030_y03_K03)]),
]

# ---------------- styles ----------------
BLACK = '#1a1a1a'
CYAN = '#1fb6c6'
MAGENTA = '#d43fa6'
BLUE = '#2450a3'
RED = '#e8363d'
styles = {
    'K20': dict(marker='o', ms=5.0, mfc='white', mec=BLACK, color=BLACK, mew=0.8),
    'K15': dict(marker='^', ms=5.0, mfc='white', mec=BLACK, color=BLACK, mew=0.8),
    'K6': dict(marker='D', ms=4.0, mfc='white', mec=CYAN, color=CYAN, mew=0.9),
    'K5': dict(marker='v', ms=5.0, mfc='white', mec=CYAN, color=CYAN, mew=0.9),
    'K4': dict(marker='p', ms=5.0, mfc='white', mec=MAGENTA, color=MAGENTA, mew=0.9),
    'K3': dict(marker='s', ms=4.2, mfc='white', mec=MAGENTA, color=MAGENTA, mew=0.9),
    'K2': dict(marker='o', ms=5.2, mfc=BLUE, mec=BLUE, color=BLUE, mew=0.5),
    'K03': dict(marker='o', ms=5.2, mfc=RED, mec=RED, color=RED, mew=0.5),
}

# ---------------- layout (pixels) ----------------
W, H = 1141, 840
col_left = [79, 211, 344, 477, 610, 743, 876, 1008]
panel_w = 128
row_top = [92, 189.3, 286.6, 383.9, 481.2, 578.5, 675.8]
panel_h = 97.3

fig = plt.figure(figsize=(W / 100, H / 100), dpi=100)

def fx(px):
    return px / W

def fy(py):
    return 1 - py / H

last_in_row = {}
for c, r, _ in panels:
    last_in_row[r] = max(last_in_row.get(r, -1), c)
bottom_of_col = {}
for c, r, _ in panels:
    bottom_of_col[c] = max(bottom_of_col.get(c, -1), r)

for c, r, series in panels:
    ax = fig.add_axes([fx(col_left[c]), fy(row_top[r] + panel_h), fx(panel_w), panel_h / H])
    for key, vals in series:
        st = styles[key]
        ax.plot(time_us, vals, linestyle='-', lw=0.5, **st)
    ax.set_xlim(0, 3)
    ax.set_ylim(0, 1.5)
    ax.xaxis.set_major_locator(FixedLocator([0, 1, 2, 3]))
    ax.xaxis.set_minor_locator(MultipleLocator(0.2))
    ax.yaxis.set_major_locator(FixedLocator([0, 0.5, 1.0, 1.5]))
    ax.yaxis.set_minor_locator(MultipleLocator(0.25))
    ax.tick_params(which='both', direction='in', top=True, right=True, width=0.8,
                   labelsize=13, colors='#222222')
    ax.tick_params(which='major', length=4.5, pad=4)
    ax.tick_params(which='minor', length=2.5)
    if r == bottom_of_col[c]:
        labs = ['0', '1', '2', '3'] if c == last_in_row[r] else ['0', '1', '2', '']
        ax.xaxis.set_major_formatter(FixedFormatter(labs))
    else:
        ax.set_xticklabels([])
    if c == 0:
        ylabs = ['0', '0.5', '1.0', '1.5'] if r == 0 else ['0', '0.5', '1.0', '']
        ax.yaxis.set_major_formatter(FixedFormatter(ylabs))
    else:
        ax.set_yticklabels([])
    for sp in ax.spines.values():
        sp.set_linewidth(1.1)
        sp.set_color('#222222')
    ax.text(0.045, 0.84, r'$y$  =  ' + y_labels[r], transform=ax.transAxes,
            fontsize=10, fontweight='bold', ha='left', va='center', color='#222222')

# column headers
for c, xl in enumerate(x_labels):
    fig.text(fx(col_left[c] + panel_w / 2), fy(73), r'$x$ = ' + xl, ha='center', va='center',
             fontsize=13.5, fontweight='bold')

# title
fig.text(fx(615), fy(28), r'$\mathrm{La}_{2\text{-}x}\mathrm{Sr}_{x}\mathrm{Cu}_{1\text{-}y}\mathrm{Zn}_{y}\mathrm{O}_{4}$',
         ha='center', va='center', fontsize=26)

# axis labels
fig.text(fx(22), fy(437), 'Normalized Asymmetry', rotation=90, ha='center', va='center',
         fontsize=19, fontweight='bold')
fig.text(fx(605), fy(826), 'Time (\u00b5sec)', ha='center', va='center',
         fontsize=18, fontweight='bold')

# legend (drawn manually in pixel coordinates)
lg_l, lg_t, lg_r, lg_b = 887, 180, 991, 380
shadow = Rectangle((fx(lg_l + 6), fy(lg_b + 6)), fx(lg_r - lg_l), (lg_b - lg_t) / H,
                   transform=fig.transFigure, facecolor='black', edgecolor='none', zorder=5)
fig.patches.append(shadow)
lax = fig.add_axes([fx(lg_l), fy(lg_b), fx(lg_r - lg_l), (lg_b - lg_t) / H], zorder=6)
lax.set_xlim(lg_l, lg_r)
lax.set_ylim(lg_b, lg_t)
lax.set_xticks([])
lax.set_yticks([])
lax.set_facecolor('white')
for sp in lax.spines.values():
    sp.set_linewidth(1.0)
    sp.set_color('#222222')
for i, (key, txt) in enumerate(zip(legend_keys, legend_texts)):
    yy = 201.7 + i * 22.6
    st = dict(styles[key])
    st['ms'] = st['ms'] * 1.45
    st['mew'] = 1.0
    lax.plot([907], [yy], linestyle='none', **st)
    lax.text(975, yy, txt, ha='right', va='center', fontsize=13, fontweight='bold')

fig.savefig('out.png', dpi=100)
